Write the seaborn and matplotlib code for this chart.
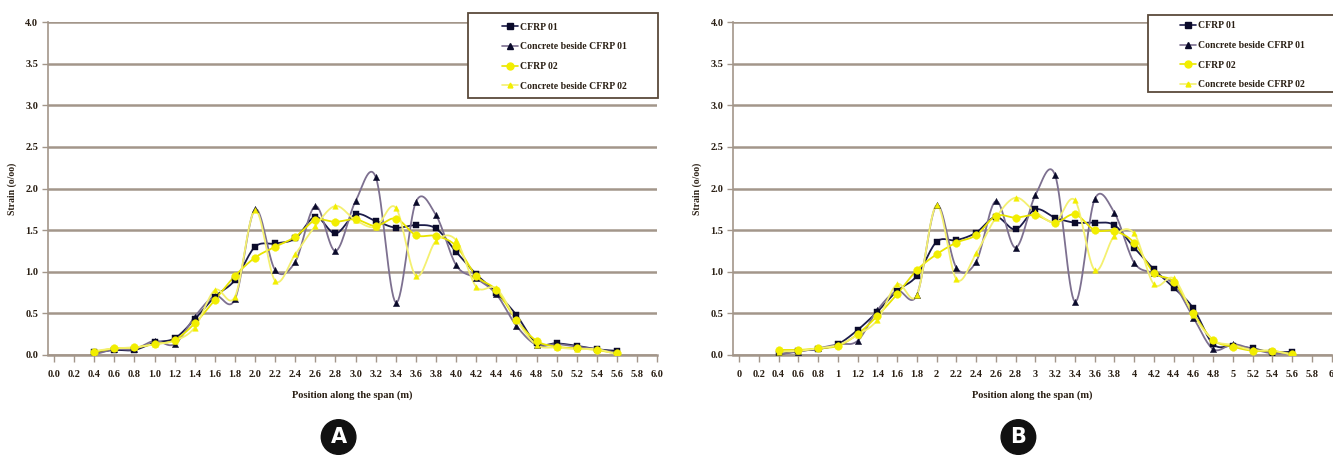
import numpy as np
import pandas as pd
import seaborn as sns
import matplotlib.pyplot as plt
from matplotlib.lines import Line2D
from matplotlib.patches import Rectangle

# --- data ---
POSITIONS = [0.4, 0.6, 0.8, 1.0, 1.2, 1.4, 1.6, 1.8, 2.0, 2.2, 2.4, 2.6, 2.8, 3.0,
             3.2, 3.4, 3.6, 3.8, 4.0, 4.2, 4.4, 4.6, 4.8, 5.0, 5.2, 5.4, 5.6]
SERIES_NAMES = ['CFRP 01', 'Concrete beside CFRP 01', 'CFRP 02', 'Concrete beside CFRP 02']

# panel A
a_cfrp01 = [0.03, 0.06, 0.06, 0.15, 0.20, 0.43, 0.70, 0.90, 1.30, 1.34, 1.40, 1.66, 1.46, 1.69,
            1.61, 1.53, 1.56, 1.52, 1.24, 0.97, 0.75, 0.48, 0.14, 0.14, 0.11, 0.07, 0.05]
a_conc01 = [0.01, 0.07, 0.07, 0.17, 0.13, 0.46, 0.71, 0.67, 1.75, 1.02, 1.12, 1.79, 1.25, 1.85,
            2.14, 0.63, 1.84, 1.68, 1.08, 0.92, 0.73, 0.35, 0.12, 0.13, 0.10, 0.07, 0.03]
a_cfrp02 = [0.04, 0.08, 0.09, 0.13, 0.18, 0.38, 0.66, 0.95, 1.17, 1.30, 1.42, 1.62, 1.60, 1.63,
            1.55, 1.64, 1.44, 1.43, 1.31, 0.95, 0.78, 0.42, 0.17, 0.10, 0.08, 0.06, 0.02]
a_conc02 = [0.05, 0.08, 0.09, 0.13, 0.17, 0.33, 0.78, 0.70, 1.74, 0.89, 1.21, 1.55, 1.79, 1.62,
            1.54, 1.77, 0.95, 1.37, 1.38, 0.82, 0.80, 0.42, 0.12, 0.09, 0.07, 0.07, 0.01]

# panel B
b_cfrp01 = [0.01, 0.05, 0.07, 0.13, 0.30, 0.52, 0.77, 0.95, 1.36, 1.38, 1.47, 1.66, 1.51, 1.75,
            1.65, 1.59, 1.59, 1.56, 1.29, 1.03, 0.81, 0.56, 0.13, 0.11, 0.08, 0.03, 0.04]
b_conc01 = [0.01, 0.04, 0.08, 0.13, 0.17, 0.54, 0.77, 0.72, 1.80, 1.05, 1.12, 1.85, 1.29, 1.92,
            2.16, 0.64, 1.87, 1.71, 1.11, 0.98, 0.85, 0.45, 0.07, 0.13, 0.07, 0.02, 0.02]
b_cfrp02 = [0.06, 0.06, 0.08, 0.11, 0.25, 0.47, 0.73, 1.02, 1.21, 1.35, 1.44, 1.67, 1.65, 1.68,
            1.59, 1.69, 1.50, 1.49, 1.35, 0.99, 0.88, 0.50, 0.18, 0.10, 0.05, 0.05, 0.01]
b_conc02 = [0.04, 0.05, 0.08, 0.12, 0.24, 0.42, 0.85, 0.72, 1.80, 0.91, 1.22, 1.65, 1.89, 1.72,
            1.60, 1.86, 1.02, 1.43, 1.46, 0.85, 0.92, 0.48, 0.18, 0.12, 0.06, 0.05, 0.01]

X_TICKS = [round(0.2 * i, 1) for i in range(31)]
Y_TICKS = [0.0, 0.5, 1.0, 1.5, 2.0, 2.5, 3.0, 3.5, 4.0]

# --- styles ---
GRID_COL = '#a3968a'
TEXT_COL = '#2a1f14'
STYLES = {
    'CFRP 01':                 dict(line='#1c1c4a', mk='s', mfc='#0a0a2a', ms=5.0, lw=1.3),
    'Concrete beside CFRP 01': dict(line='#7d7090', mk='^', mfc='#0a0a2a', ms=4.5, lw=1.3),
    'CFRP 02':                 dict(line='#e8e400', mk='o', mfc='#f2ee00', ms=5.5, lw=1.3),
    'Concrete beside CFRP 02': dict(line='#f4f070', mk='^', mfc='#f2ee00', ms=4.0, lw=1.3),
}


def smooth_curve(x, y, n=16):
    # Catmull-Rom smoothing like Excel's "smoothed line" option
    x = np.asarray(x, float)
    y = np.asarray(y, float)
    px = np.concatenate([[2 * x[0] - x[1]], x, [2 * x[-1] - x[-2]]])
    py = np.concatenate([[y[0]], y, [y[-1]]])
    xs, ys = [], []
    t = np.linspace(0, 1, n, endpoint=False)
    for i in range(1, len(px) - 2):
        for p, out in ((px, xs), (py, ys)):
            p0, p1, p2, p3 = p[i - 1], p[i], p[i + 1], p[i + 2]
            out.extend(0.5 * ((2 * p1) + (-p0 + p2) * t
                              + (2 * p0 - 5 * p1 + 4 * p2 - p3) * t ** 2
                              + (-p0 + 3 * p1 - 3 * p2 + p3) * t ** 3))
    xs.append(x[-1])
    ys.append(y[-1])
    return np.array(xs), np.array(ys)


sns.set_theme(style='white')
plt.rcParams['font.family'] = ['Liberation Serif', 'DejaVu Serif']
plt.rcParams['font.weight'] = 'bold'

fig = plt.figure(figsize=(13.33, 4.61), dpi=100)
ax_a = fig.add_axes([0.036, 0.230, 0.457, 0.722])
ax_b = fig.add_axes([0.550, 0.230, 0.449, 0.722])

# (axes, series, tick labels, legend box [x, y, w, h], legend anchor, letter, letter x)
panels = [
    (ax_a, [a_cfrp01, a_conc01, a_cfrp02, a_conc02], [f'{v:.1f}' for v in X_TICKS],
     [0.351, 0.787, 0.1425, 0.184], (0.3765, 0.877), 'A', 0.254),
    (ax_b, [b_cfrp01, b_conc01, b_cfrp02, b_conc02], [f'{v:g}' for v in X_TICKS],
     [0.861, 0.800, 0.1395, 0.167], (0.885, 0.880), 'B', 0.764),
]

for ax, series, xlabels, box, leg_anchor, letter, letter_x in panels:
    for name, vals in zip(SERIES_NAMES, series):
        st = STYLES[name]
        sx, sy = smooth_curve(POSITIONS, vals)
        sns.lineplot(x=sx, y=sy, ax=ax, color=st['line'], lw=st['lw'], sort=False,
                     estimator=None, zorder=3)
        df = pd.DataFrame({'pos': POSITIONS, 'strain': vals})
        sns.scatterplot(data=df, x='pos', y='strain', ax=ax, marker=st['mk'],
                        color=st['mfc'], s=st['ms'] ** 2, edgecolor=st['mfc'],
                        linewidth=0.3, zorder=4)

    ax.set_xlim(-0.06, 6.0)
    ax.set_ylim(0, 4.0)
    ax.set_xticks(X_TICKS)
    ax.set_xticklabels(xlabels)
    ax.set_yticks(Y_TICKS)
    ax.set_yticklabels([f'{v:.1f}' for v in Y_TICKS])
    ax.yaxis.grid(True, color=GRID_COL, lw=1.8)
    ax.set_axisbelow(True)
    for side in ['top', 'right']:
        ax.spines[side].set_visible(False)
    ax.spines['left'].set_color(GRID_COL)
    ax.spines['left'].set_linewidth(1.2)
    ax.spines['bottom'].set_color(GRID_COL)
    ax.spines['bottom'].set_linewidth(1.8)
    ax.tick_params(axis='x', length=5, width=1.0, color=GRID_COL, direction='out',
                   pad=6, labelsize=7.5, labelcolor=TEXT_COL, bottom=True)
    ax.tick_params(axis='y', length=4, width=1.0, color=GRID_COL, direction='out',
                   pad=3, labelsize=7.5, labelcolor=TEXT_COL, left=True)
    for lab in ax.get_xticklabels() + ax.get_yticklabels():
        lab.set_fontweight('bold')
    ax.set_xlabel('Position along the span (m)', fontsize=7.5, fontweight='bold',
                  color=TEXT_COL, labelpad=8)
    ax.set_ylabel('Strain (o/oo)', fontsize=7, fontweight='bold', color=TEXT_COL,
                  labelpad=6)

    # legend frame drawn by hand so it can be wider than its entries
    fig.patches.append(Rectangle((box[0], box[1]), box[2], box[3], transform=fig.transFigure,
                                 fc='white', ec='#5a4a3a', lw=1.3, zorder=9))
    handles = [Line2D([], [], color=STYLES[n]['line'], lw=1.2, marker=STYLES[n]['mk'],
                      markerfacecolor=STYLES[n]['mfc'], markeredgecolor=STYLES[n]['mfc'],
                      markersize=STYLES[n]['ms'] - 0.5) for n in SERIES_NAMES]
    leg = fig.legend(handles, SERIES_NAMES, loc='center left', bbox_to_anchor=leg_anchor,
                     bbox_transform=fig.transFigure, frameon=False,
                     handlelength=1.7, handletextpad=0.2, labelspacing=1.1, borderpad=0,
                     borderaxespad=0, prop={'weight': 'bold', 'size': 7})
    for txt in leg.get_texts():
        txt.set_color(TEXT_COL)
    leg.set_zorder(10)

    fig.text(letter_x, 0.052, letter, ha='center', va='center', color='white',
             fontsize=15, fontweight='bold', family=['DejaVu Sans'],
             bbox=dict(boxstyle='circle,pad=0.35', fc='#111111', ec='#111111'))

plt.savefig('out.png', dpi=100)
